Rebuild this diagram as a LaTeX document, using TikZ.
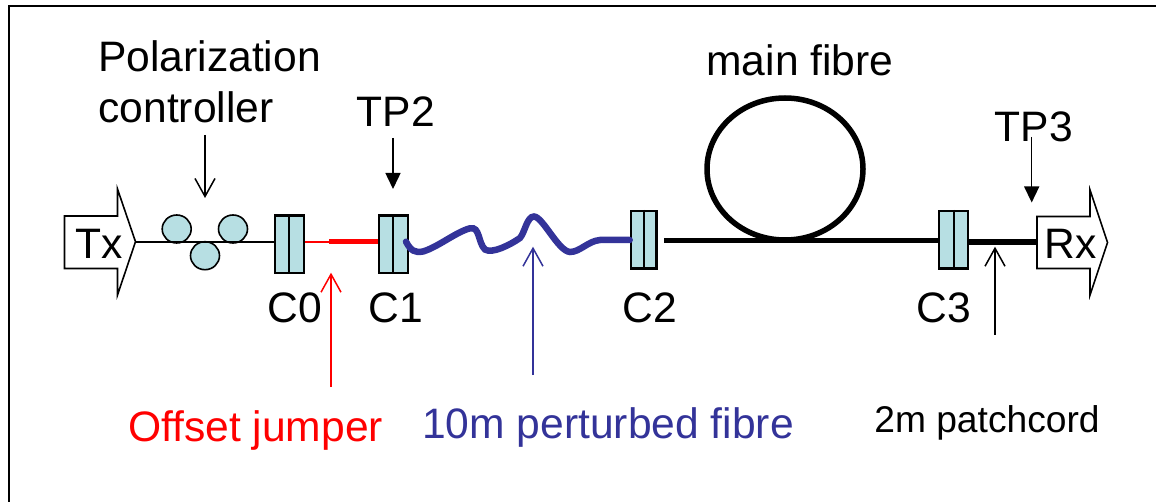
\documentclass[tikz,border=0pt]{standalone}
\usepackage{fontspec}
\setmainfont{Liberation Sans}
\usetikzlibrary{arrows.meta,shapes.geometric}
\definecolor{connfill}{HTML}{B7DFE3}
\definecolor{perturbblue}{HTML}{333399}
\tikzset{
  lbl/.style={anchor=base,inner sep=0pt,font=\fontsize{42.6}{48}\selectfont},
  smalllbl/.style={anchor=base,inner sep=0pt,font=\fontsize{37.2}{42}\selectfont},
  conn/.style={draw=black,line width=2.5pt,fill=connfill,rectangle,inner sep=0pt,minimum width=29pt,minimum height=57.5pt},
  paddle/.style={draw=black,line width=1.6pt,fill=connfill,ellipse,inner sep=0pt,minimum width=29pt,minimum height=28pt},
  port/.style={draw=black,line width=1.6pt,fill=white,line join=miter},
  thinfibre/.style={line width=1.8pt},
  thickfibre/.style={line width=5.5pt},
  openarrow/.style={-{Straight Barb[length=18pt,width=20pt,line width=1.5pt]},line width=1.5pt},
  fullarrow/.style={-{Triangle[length=16pt,width=15pt]},line width=1.5pt}
}
\begin{document}
\begin{tikzpicture}[x=1pt,y=-1pt]
	\useasboundingbox (0,0) rectangle (1156,502);
	%FRAME
	\draw[line width=2pt] (8.5,502) -- (8.5,6) -- (1156,6);
	%PORTS
	\draw[port] (64.5,216) -- (117.5,216) -- (117.5,189) -- (135.5,241.7) coordinate (Txtip) -- (117.5,295) -- (117.5,268.5) -- (64.5,268.5) -- cycle;
	\draw[port] (1037,216.5) -- (1090,216.5) -- (1090,190) -- (1107.5,242.5) -- (1090,295) -- (1090,268.5) -- (1037,268.5) -- cycle;
	\coordinate (Rxin) at (1037,242);
	\node[lbl] (Tx) at (99,259) {Tx};
	\node[lbl] (Rx) at (1071,259) {Rx};
	%PADDLES
	\node[paddle] (P1) at (176.7,229) {};
	\node[paddle] (P2) at (205,255.7) {};
	\node[paddle] (P3) at (233,229) {};
	%CONNECTORS
	\node[conn] (C0) at (289.3,244.3) {};
	\node[conn] (C1) at (393.3,244.3) {};
	\node[conn,minimum width=25.5pt] (C2) at (643.7,240) {};
	\node[conn] (C3) at (953.6,239.8) {};
	\foreach \c in {C0,C1,C2,C3}
		\draw[line width=2.2pt] (\c.north) -- (\c.south);
	%FIBRES
	\draw[thinfibre] (Txtip) -- (Txtip -| C0.west);
	\coordinate (Jmid) at (329.3,241.7);
	\draw[red,thinfibre] (Jmid -| C0.east) -- (Jmid);
	\draw[red,thickfibre] (Jmid) -- (Jmid -| C1.west);
	\draw[perturbblue,line width=6.5pt,line cap=round] (406,241.7) .. controls (411,251) and (415,253) .. (423,251.5)
		.. controls (438,247) and (456,232) .. (470,228.3)
		.. controls (480,226) and (478,243) .. (485,249.5)
		.. controls (492,254) and (510,245) .. (520,238)
		.. controls (525,232) and (527,216.5) .. (534,216.5)
		.. controls (543,217) and (558,251) .. (570,252)
		.. controls (580,252) and (588,241) .. (600,240)
		-- (C2.west);
	\coordinate (Mstart) at (664,240.3);
	\draw[thickfibre] (Mstart) -- (Mstart -| C3.west);
	\draw[line width=5.5pt] (785,169) ellipse [x radius=78,y radius=71];
	\draw[thickfibre] (Rxin -| C3.east) -- (Rxin);
	%ARROWS
	\coordinate (Aone) at (205,135);
	\coordinate (Aonee) at (205,198);
	\draw[openarrow] (Aone) -- (Aonee);
	\coordinate (Atwo) at (393,138);
	\coordinate (Atwoe) at (393,189);
	\draw[fullarrow] (Atwo) -- (Atwoe);
	\coordinate (Athree) at (1031.7,137);
	\coordinate (Athreee) at (1031.7,202.5);
	\draw[fullarrow] (Athree) -- (Athreee);
	\coordinate (Ared) at (331,387);
	\coordinate (Arede) at (331,272.7);
	\draw[openarrow,red] (Ared) -- (Arede);
	\coordinate (Ablue) at (533,375);
	\coordinate (Ablue2) at (533,246.7);
	\draw[openarrow,perturbblue] (Ablue) -- (Ablue2);
	\coordinate (Apatch) at (995,335);
	\coordinate (Apatche) at (995,246.7);
	\draw[openarrow] (Apatch) -- (Apatche);
	%LABELS
	\node[lbl] (Lpol) at (209.5,72) {Polarization};
	\node[lbl] (Lctrl) at (186,123) {controller};
	\node[lbl] (Ltp2) at (396,127) {TP2};
	\node[lbl] (Lmain) at (800,76) {main fibre};
	\node[lbl] (Ltp3) at (1034,142) {TP3};
	\node[lbl] (Lc0) at (295,323) {C0};
	\node[lbl] (Lc1) at (396,323) {C1};
	\node[lbl] (Lc2) at (650,323) {C2};
	\node[lbl] (Lc3) at (944,323) {C3};
	\node[lbl,text=red] (Lred) at (255.5,441) {Offset jumper};
	\node[lbl,text=perturbblue] (Lblue) at (608,438) {10m perturbed fibre};
	\node[smalllbl] (Lpatch) at (987,432) {2m patchcord};
\end{tikzpicture}
\end{document}
